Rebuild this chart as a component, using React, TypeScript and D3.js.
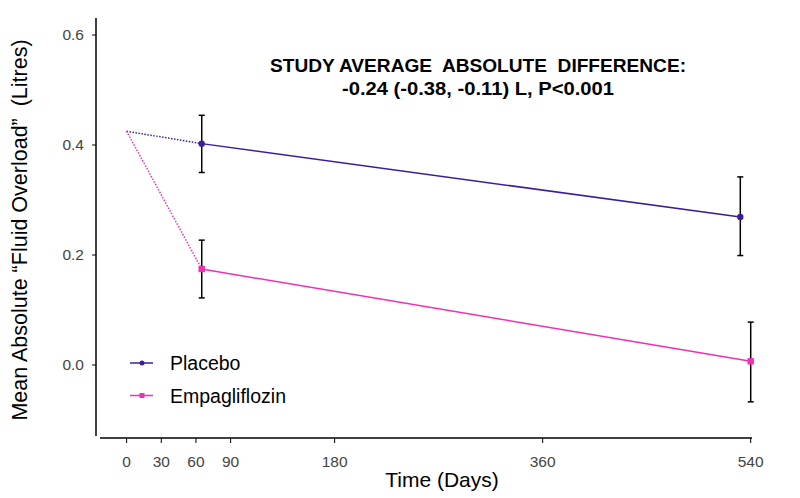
import React from "react";
import * as d3 from "d3";

const xTicks = [0, 30, 60, 90, 180, 360, 540];
const yTicks = [0.0, 0.2, 0.4, 0.6];
const baseline = { day: 0, value: 0.425 };
const seriesNames = ["Placebo", "Empagliflozin"];
const placeboDays = [65, 531];
const placeboMeans = [0.4025, 0.269];
const placeboLow = [0.35, 0.199];
const placeboHigh = [0.454, 0.342];
const empaDays = [65, 540];
const empaMeans = [0.1745, 0.0067];
const empaLow = [0.122, -0.067];
const empaHigh = [0.227, 0.078];
const annotation = ["STUDY AVERAGE  ABSOLUTE  DIFFERENCE:", "-0.24 (-0.38, -0.11) L, P<0.001"];

const colors = ["#3b1f98", "#ee30b2"];

export default function App() {
  const W = 800, H = 498;
  const x = d3.scaleLinear().domain([0, 540]).range([126.6, 750.7]);
  const y = d3.scaleLinear().domain([0, 0.6]).range([365, 35]);
  const font = "Arial, 'Liberation Sans', sans-serif";
  const line = d3.line<[number, number]>().x(d => x(d[0])).y(d => y(d[1]));

  const series = [
    { name: seriesNames[0], days: placeboDays, m: placeboMeans, lo: placeboLow, hi: placeboHigh, color: colors[0], shape: "circle" },
    { name: seriesNames[1], days: empaDays, m: empaMeans, lo: empaLow, hi: empaHigh, color: colors[1], shape: "square" },
  ];

  const marker = (shape: string, cx: number, cy: number, color: string) =>
    shape === "circle" ? (
      <circle cx={cx} cy={cy} r={3.2} fill={color} />
    ) : (
      <rect x={cx - 3.2} y={cy - 3.2} width={6.4} height={6.4} fill={color} />
    );

  const annWidths = [416, 272];

  return (
    <svg width={W} height={H} style={{ position: "absolute", left: 0, top: 0, background: "#fff" }} fontFamily={font}>
      {/* axes */}
      <line x1={96} x2={96} y1={18} y2={436} stroke="#000" strokeWidth={1.5} />
      <line x1={100} x2={752} y1={438} y2={438} stroke="#000" strokeWidth={1.5} />
      {yTicks.map(t => (
        <g key={t}>
          <line x1={92} x2={96} y1={y(t)} y2={y(t)} stroke="#000" strokeWidth={1} />
          <text x={84} y={y(t)} dy="0.35em" textAnchor="end" fontSize={15.5} fill="#444">{t.toFixed(1)}</text>
        </g>
      ))}
      {xTicks.map(t => (
        <g key={t}>
          <line x1={x(t)} x2={x(t)} y1={438} y2={443} stroke="#000" strokeWidth={1} />
          <text x={x(t)} y={467} textAnchor="middle" fontSize={15.5} fill="#444">{t}</text>
        </g>
      ))}
      <text x={442} y={486.5} textAnchor="middle" fontSize={21} fill="#000">Time (Days)</text>
      <text transform={`translate(27,230) rotate(-90)`} textAnchor="middle" fontSize={21.5} fill="#000" style={{ whiteSpace: "pre" }}>
        {"Mean Absolute “Fluid Overload”  (Litres)"}
      </text>

      {/* annotation */}
      {annotation.map((s, i) => (
        <text key={i} x={478 - annWidths[i] / 2} y={72 + i * 22.5} fontSize={17.5} fontWeight="bold" fill="#000"
          textLength={annWidths[i]} lengthAdjust="spacingAndGlyphs" style={{ whiteSpace: "pre" }}>{s}</text>
      ))}

      {/* series */}
      {series.map(s => (
        <g key={s.name}>
          <path d={line([[baseline.day, baseline.value], [s.days[0], s.m[0]]]) || ""} fill="none" stroke={s.color} strokeWidth={1.5} strokeDasharray="1.5,1.5" />
          <path d={line(s.days.map((d, i) => [d, s.m[i]] as [number, number])) || ""} fill="none" stroke={s.color} strokeWidth={1.5} />
          {s.days.map((d, i) => (
            <g key={i}>
              <line x1={x(d)} x2={x(d)} y1={y(s.lo[i])} y2={y(s.hi[i])} stroke="#000" strokeWidth={1.5} />
              <line x1={x(d) - 3} x2={x(d) + 3} y1={y(s.lo[i])} y2={y(s.lo[i])} stroke="#000" strokeWidth={1.5} />
              <line x1={x(d) - 3} x2={x(d) + 3} y1={y(s.hi[i])} y2={y(s.hi[i])} stroke="#000" strokeWidth={1.5} />
              {marker(s.shape, x(d), y(s.m[i]), s.color)}
            </g>
          ))}
        </g>
      ))}

      {/* legend */}
      {series.map((s, i) => {
        const ly = 363 + i * 32.5;
        return (
          <g key={s.name}>
            <line x1={130} x2={153} y1={ly} y2={ly} stroke={s.color} strokeWidth={1.5} />
            {s.shape === "circle" ? (
              <circle cx={142} cy={ly} r={2.5} fill={s.color} />
            ) : (
              <rect x={139.5} y={ly - 2.5} width={5} height={5} fill={s.color} />
            )}
            <text x={170} y={ly} dy="0.36em" fontSize={19.5} fill="#000">{s.name}</text>
          </g>
        );
      })}
    </svg>
  );
}
